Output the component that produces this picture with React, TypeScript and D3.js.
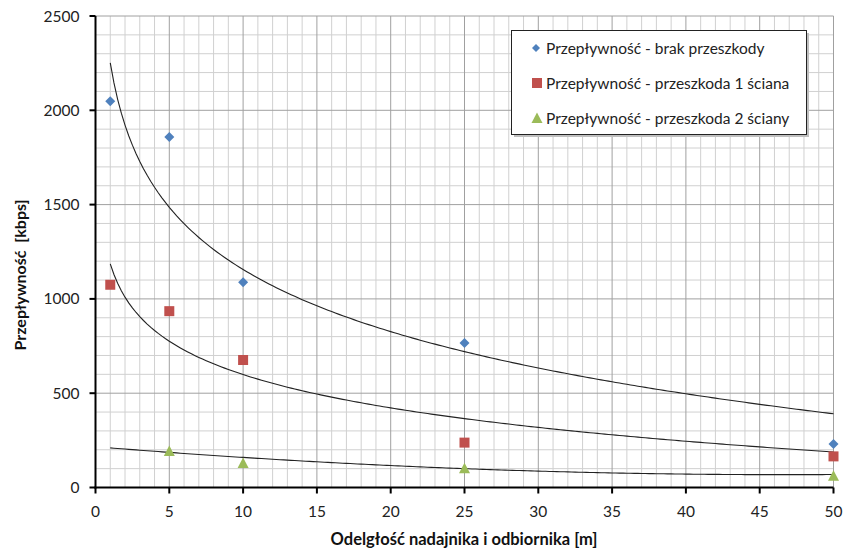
import React from "react";
import * as d3 from "d3";

// odległość [m]
const distances = [1, 5, 10, 25, 50];
const distancesGreen = [5, 10, 25, 50];

// przepływność [kbps]
const brakPrzeszkody = [2048, 1858, 1088, 766, 230];
const przeszkoda1 = [1075, 935, 676, 238, 165];
const przeszkoda2 = [194, 130, 102, 62];

// trendline coefficients
const trendBrak = [2251, -475.5]; // a + b*ln(x)
const trend1 = [1186, -255]; // a + b*ln(x)
const trend2 = [216.3, -6.36, 0.0682]; // c + b*x + a*x^2

const xTicks = [0, 5, 10, 15, 20, 25, 30, 35, 40, 45, 50];
const yTicks = [0, 500, 1000, 1500, 2000, 2500];

const legendLabels = [
  "Przepływność - brak przeszkody",
  "Przepływność - przeszkoda 1 ściana",
  "Przepływność - przeszkoda 2 ściany",
];

const BLUE = "#4F81BD";
const RED = "#C0504D";
const GREEN = "#9BBB59";
const FONT = "Lato, 'Open Sans', sans-serif";

const W = 843;
const H = 551;
const margin = { left: 95.5, right: 9.5, top: 16, bottom: 63.5 };

function Diamond({ x, y, color }: { x: number; y: number; color: string }) {
  const r = 5;
  return (
    <path d={`M${x},${y - r}L${x + r},${y}L${x},${y + r}L${x - r},${y}Z`} fill={color} />
  );
}
function Square({ x, y, color }: { x: number; y: number; color: string }) {
  return <rect x={x - 5} y={y - 5} width={10} height={10} fill={color} />;
}
function Triangle({ x, y, color }: { x: number; y: number; color: string }) {
  return <path d={`M${x},${y - 5.5}L${x + 5.5},${y + 5}L${x - 5.5},${y + 5}Z`} fill={color} />;
}

export default function App() {
  const x = d3.scaleLinear().domain([0, 50]).range([margin.left, W - margin.right]);
  const y = d3.scaleLinear().domain([0, 2500]).range([H - margin.bottom, margin.top]);

  const xs = d3.range(1, 50.001, 0.25);
  const line = d3
    .line<number[]>()
    .x((d) => x(d[0]))
    .y((d) => y(d[1]));

  const curveBrak = xs.map((v) => [v, trendBrak[0] + trendBrak[1] * Math.log(v)]);
  const curve1 = xs.map((v) => [v, trend1[0] + trend1[1] * Math.log(v)]);
  const curve2 = xs.map((v) => [v, trend2[0] + trend2[1] * v + trend2[2] * v * v]);

  const x0 = x(0);
  const y0 = y(0);

  return (
    <svg
      width={W}
      height={H}
      style={{ position: "absolute", left: 0, top: 0, display: "block", background: "#fff" }}
      fontFamily={FONT}
    >
      {/* minor grid */}
      {x.ticks(50).filter((t) => t % 5 !== 0).map((t) => (
        <line key={"mx" + t} x1={x(t)} x2={x(t)} y1={y(2500)} y2={y0} stroke="#d0d0d0" />
      ))}
      {y.ticks(25).filter((t) => t % 500 !== 0).map((t) => (
        <line key={"my" + t} x1={x0} x2={x(50)} y1={y(t)} y2={y(t)} stroke="#d0d0d0" />
      ))}
      {/* major grid */}
      {xTicks.slice(1).map((t) => (
        <line key={"gx" + t} x1={x(t)} x2={x(t)} y1={y(2500)} y2={y0} stroke="#a0a0a0" />
      ))}
      {yTicks.slice(1).map((t) => (
        <line key={"gy" + t} x1={x0} x2={x(50)} y1={y(t)} y2={y(t)} stroke="#a0a0a0" />
      ))}

      {/* axes */}
      <line x1={x0} x2={x0} y1={y(2500)} y2={y0 + 1} stroke="#000" strokeWidth={2} />
      <line x1={x0 - 1} x2={x(50)} y1={y0} y2={y0} stroke="#000" strokeWidth={2} />
      {yTicks.map((t) => (
        <g key={"ty" + t}>
          <line x1={x0 - 6} x2={x0} y1={y(t)} y2={y(t)} stroke="#000" strokeWidth={2} />
          <text x={x0 - 16} y={y(t) + 5.5} textAnchor="end" fontSize={15.5} fill="#222">
            {t}
          </text>
        </g>
      ))}
      {xTicks.map((t) => (
        <g key={"tx" + t}>
          <line x1={x(t)} x2={x(t)} y1={y0} y2={y0 + 6} stroke="#000" strokeWidth={2} />
          <text x={x(t)} y={y0 + 29.5} textAnchor="middle" fontSize={15.5} fill="#222">
            {t}
          </text>
        </g>
      ))}

      {/* trendlines */}
      <path d={line(curveBrak) ?? ""} fill="none" stroke="#222" strokeWidth={1.1} />
      <path d={line(curve1) ?? ""} fill="none" stroke="#222" strokeWidth={1.1} />
      <path d={line(curve2) ?? ""} fill="none" stroke="#222" strokeWidth={1.1} />

      {/* points */}
      {distances.map((d, i) => (
        <Diamond key={"b" + d} x={x(d)} y={y(brakPrzeszkody[i])} color={BLUE} />
      ))}
      {distances.map((d, i) => (
        <Square key={"r" + d} x={x(d)} y={y(przeszkoda1[i])} color={RED} />
      ))}
      {distancesGreen.map((d, i) => (
        <Triangle key={"g" + d} x={x(d)} y={y(przeszkoda2[i])} color={GREEN} />
      ))}

      {/* axis titles */}
      <text
        transform={`translate(26,275) rotate(-90)`}
        textAnchor="middle"
        fontSize={16}
        fontWeight="bold"
        fill="#111"
      >
        {"Przepływność\u00a0\u00a0[kbps]"}
      </text>
      <text x={464} y={545} textAnchor="middle" fontSize={16.5} fontWeight="bold" fill="#111">
        Odelgłość nadajnika i odbiornika [m]
      </text>

      {/* legend */}
      <rect x={514} y={33} width={295} height={104} fill="#bfbfbf" />
      <rect x={511.5} y={30.5} width={295} height={104} fill="#fff" stroke="#222" strokeWidth={1} />
      {legendLabels.map((label, i) => {
        const cy = 48 + i * 35;
        const Marker = i === 0 ? Diamond : i === 1 ? Square : Triangle;
        const color = i === 0 ? BLUE : i === 1 ? RED : GREEN;
        return (
          <g key={label}>
            {i === 0 ? (
              <path d={`M536,${cy - 4}L540,${cy}L536,${cy + 4}L532,${cy}Z`} fill={color} />
            ) : (
              <Marker x={537} y={cy} color={color} />
            )}
            <text x={546} y={cy + 5.5} fontSize={15.5} fill="#222">
              {label}
            </text>
          </g>
        );
      })}
    </svg>
  );
}
